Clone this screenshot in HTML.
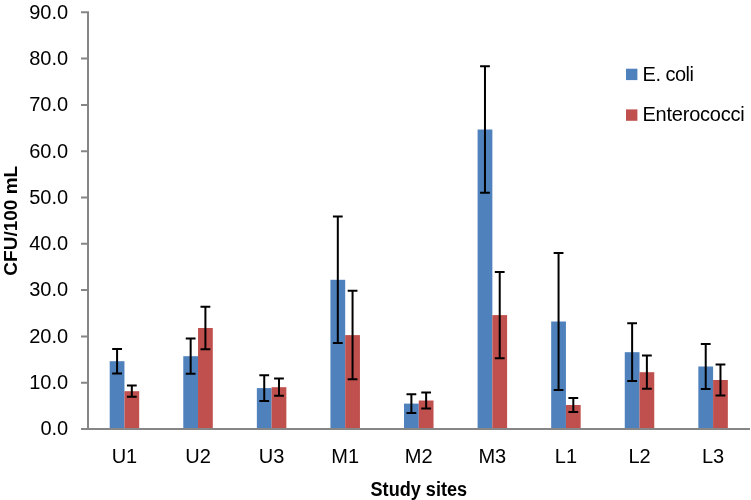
<!DOCTYPE html>
<html><head><meta charset="utf-8"><style>
html,body{margin:0;padding:0;background:#fff;}
body{width:751px;height:500px;overflow:hidden;}
svg{display:block;will-change:transform;}
.t{font-family:"Liberation Sans",sans-serif;font-size:20px;fill:#000;}
.b{font-family:"Liberation Sans",sans-serif;font-size:19px;font-weight:bold;fill:#000;}
</style></head><body>
<svg width="751" height="500" viewBox="0 0 751 500">
<rect x="109.70" y="361.20" width="14.75" height="67.80" fill="#4F81BD"/>
<rect x="124.45" y="391.20" width="14.75" height="37.80" fill="#C0504D"/>
<rect x="183.28" y="356.20" width="14.75" height="72.80" fill="#4F81BD"/>
<rect x="198.03" y="328.00" width="14.75" height="101.00" fill="#C0504D"/>
<rect x="256.86" y="388.10" width="14.75" height="40.90" fill="#4F81BD"/>
<rect x="271.61" y="387.20" width="14.75" height="41.80" fill="#C0504D"/>
<rect x="330.44" y="279.80" width="14.75" height="149.20" fill="#4F81BD"/>
<rect x="345.19" y="335.10" width="14.75" height="93.90" fill="#C0504D"/>
<rect x="404.02" y="403.60" width="14.75" height="25.40" fill="#4F81BD"/>
<rect x="418.77" y="400.50" width="14.75" height="28.50" fill="#C0504D"/>
<rect x="477.60" y="129.50" width="14.75" height="299.50" fill="#4F81BD"/>
<rect x="492.35" y="315.10" width="14.75" height="113.90" fill="#C0504D"/>
<rect x="551.18" y="321.50" width="14.75" height="107.50" fill="#4F81BD"/>
<rect x="565.93" y="405.00" width="14.75" height="24.00" fill="#C0504D"/>
<rect x="624.76" y="352.20" width="14.75" height="76.80" fill="#4F81BD"/>
<rect x="639.51" y="372.20" width="14.75" height="56.80" fill="#C0504D"/>
<rect x="698.34" y="366.50" width="14.75" height="62.50" fill="#4F81BD"/>
<rect x="713.09" y="380.00" width="14.75" height="49.00" fill="#C0504D"/>
<path d="M117.08 348.95V373.45M112.17 348.95H121.98M112.17 373.45H121.98M131.82 385.60V396.80M126.92 385.60H136.72M126.92 396.80H136.72M190.66 338.55V373.85M185.75 338.55H195.56M185.75 373.85H195.56M205.41 306.80V349.20M200.50 306.80H210.31M200.50 349.20H210.31M264.24 375.25V400.95M259.34 375.25H269.13M259.34 400.95H269.13M278.99 378.55V395.85M274.09 378.55H283.88M274.09 395.85H283.88M337.81 216.60V343.00M332.92 216.60H342.71M332.92 343.00H342.71M352.56 290.85V379.35M347.67 290.85H357.46M347.67 379.35H357.46M411.39 394.25V412.95M406.50 394.25H416.29M406.50 412.95H416.29M426.14 392.40V408.60M421.25 392.40H431.04M421.25 408.60H431.04M484.97 66.20V192.80M480.07 66.20H489.87M480.07 192.80H489.87M499.72 271.95V358.25M494.82 271.95H504.62M494.82 358.25H504.62M558.56 252.90V390.10M553.66 252.90H563.46M553.66 390.10H563.46M573.31 397.90V412.10M568.41 397.90H578.21M568.41 412.10H578.21M632.13 323.30V381.10M627.24 323.30H637.03M627.24 381.10H637.03M646.88 355.60V388.80M641.99 355.60H651.78M641.99 388.80H651.78M705.72 344.10V388.90M700.82 344.10H710.62M700.82 388.90H710.62M720.47 364.50V395.50M715.57 364.50H725.37M715.57 395.50H725.37" stroke="#000" stroke-width="2" fill="none"/>
<path d="M88 11.30V429.00M81 429.00H750 M81 429.00H88M81 382.70H88M81 336.40H88M81 290.10H88M81 243.80H88M81 197.50H88M81 151.20H88M81 104.90H88M81 58.60H88M81 12.30H88" stroke="#868686" stroke-width="2" fill="none"/>
<text x="68.2" y="435.30" text-anchor="end" class="t">0.0</text>
<text x="68.2" y="389.00" text-anchor="end" class="t">10.0</text>
<text x="68.2" y="342.70" text-anchor="end" class="t">20.0</text>
<text x="68.2" y="296.40" text-anchor="end" class="t">30.0</text>
<text x="68.2" y="250.10" text-anchor="end" class="t">40.0</text>
<text x="68.2" y="203.80" text-anchor="end" class="t">50.0</text>
<text x="68.2" y="157.50" text-anchor="end" class="t">60.0</text>
<text x="68.2" y="111.20" text-anchor="end" class="t">70.0</text>
<text x="68.2" y="64.90" text-anchor="end" class="t">80.0</text>
<text x="68.2" y="18.60" text-anchor="end" class="t">90.0</text>
<text x="124.45" y="463" text-anchor="middle" class="t">U1</text>
<text x="198.03" y="463" text-anchor="middle" class="t">U2</text>
<text x="271.61" y="463" text-anchor="middle" class="t">U3</text>
<text x="345.19" y="463" text-anchor="middle" class="t">M1</text>
<text x="418.77" y="463" text-anchor="middle" class="t">M2</text>
<text x="492.35" y="463" text-anchor="middle" class="t">M3</text>
<text x="565.93" y="463" text-anchor="middle" class="t">L1</text>
<text x="639.51" y="463" text-anchor="middle" class="t">L2</text>
<text x="713.09" y="463" text-anchor="middle" class="t">L3</text>
<text x="418.8" y="495.8" text-anchor="middle" class="b" style="font-size:20px" textLength="96.5" lengthAdjust="spacingAndGlyphs">Study sites</text>
<text transform="translate(16.7 220.75) rotate(-90)" x="0" y="0" text-anchor="middle" class="b">CFU/100 mL</text>
<rect x="626" y="68.7" width="11.4" height="11.4" fill="#4F81BD"/>
<text x="642.6" y="80.8" class="t" textLength="51.4" lengthAdjust="spacing">E. coli</text>
<rect x="626" y="109.4" width="11.4" height="11.4" fill="#C0504D"/>
<text x="642.4" y="121" class="t" textLength="102.4" lengthAdjust="spacing">Enterococci</text>
</svg>
</body></html>
